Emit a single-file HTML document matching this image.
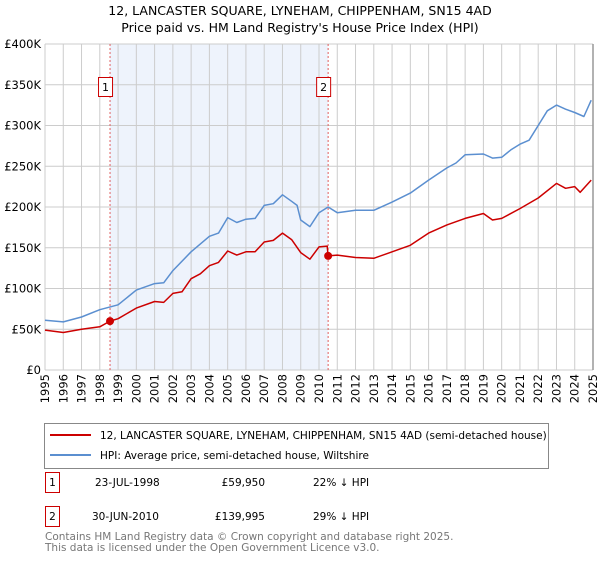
<!DOCTYPE html>
<html><head><meta charset="utf-8"><style>
body{margin:0;background:#fff;font-family:"DejaVu Sans","Liberation Sans",sans-serif;}
svg text{font-family:"DejaVu Sans","Liberation Sans",sans-serif;}
</style></head><body>
<svg width="600" height="560" xmlns="http://www.w3.org/2000/svg">
<text x="300" y="15" font-size="12.5" text-anchor="middle">12, LANCASTER SQUARE, LYNEHAM, CHIPPENHAM, SN15 4AD</text>
<text x="300" y="32" font-size="12.5" text-anchor="middle">Price paid vs. HM Land Registry's House Price Index (HPI)</text>
<g id="plot"></g>
<g>
<rect x="44.5" y="423.5" width="504" height="45" fill="#fff" stroke="#888"/>
<line x1="50" y1="435" x2="91" y2="435" stroke="#cc0000" stroke-width="2"/>
<text x="100" y="439" font-size="10.5">12, LANCASTER SQUARE, LYNEHAM, CHIPPENHAM, SN15 4AD (semi-detached house)</text>
<line x1="50" y1="455" x2="91" y2="455" stroke="#5b8fd0" stroke-width="2"/>
<text x="100" y="459" font-size="10.5">HPI: Average price, semi-detached house, Wiltshire</text>
</g>
<g font-size="10.5">
<rect x="45.5" y="472.5" width="14" height="20" fill="#fff" stroke="#cc0000"/>
<text x="52.5" y="486" text-anchor="middle">1</text>
<text x="95" y="486">23-JUL-1998</text>
<text x="265" y="486" text-anchor="end">£59,950</text>
<text x="313" y="486">22% ↓ HPI</text>
<rect x="45.5" y="506.5" width="14" height="20" fill="#fff" stroke="#cc0000"/>
<text x="52.5" y="520" text-anchor="middle">2</text>
<text x="92" y="520">30-JUN-2010</text>
<text x="265" y="520" text-anchor="end">£139,995</text>
<text x="313" y="520">29% ↓ HPI</text>
</g>
<text x="45" y="540" font-size="10.5" fill="#777">Contains HM Land Registry data © Crown copyright and database right 2025.</text>
<text x="45" y="551" font-size="10.5" fill="#777">This data is licensed under the Open Government Licence v3.0.</text>
</svg>
<script>
const hpiYears=[1995,1996,1997,1998,1999,2000,2001,2001.5,2002,2003,2004,2004.5,2005,2005.5,2006,2006.5,2007,2007.5,2008,2008.5,2008.8,2009,2009.5,2010,2010.5,2011,2012,2013,2014,2015,2016,2017,2017.5,2018,2019,2019.5,2020,2020.5,2021,2021.5,2022,2022.5,2023,2023.5,2024,2024.5,2024.9];
const hpiValues=[61,59,65,74,80,98,106,107,122,145,164,168,187,181,185,186,202,204,215,207,202,184,176,193,200,193,196,196,206,217,233,248,254,264,265,260,261,270,277,282,300,318,325,320,316,311,331];
const ppYears=[1995,1996,1997,1998,1998.56,1999,2000,2001,2001.5,2002,2002.5,2003,2003.5,2004,2004.5,2005,2005.5,2006,2006.5,2007,2007.5,2008,2008.5,2009,2009.5,2010,2010.45,2010.5,2011,2012,2013,2014,2015,2016,2017,2018,2019,2019.5,2020,2021,2022,2023,2023.5,2024,2024.3,2024.9];
const ppValues=[49,46,50,53,60,63,76,84,83,94,96,112,118,128,132,146,141,145,145,157,159,168,160,144,136,151,152,140,141,138,137,145,153,168,178,186,192,184,186,198,211,229,223,225,218,233];
const saleYears=[1998.56,2010.5];
const saleValues=[59.95,139.995];
const saleLabels=["1","2"];
const yTicks=[0,50,100,150,200,250,300,350,400];
const yTickLabels=["£0","£50K","£100K","£150K","£200K","£250K","£300K","£350K","£400K"];
const xStart=1995,xEnd=2025;
const L=45,R=593,T=44,B=370;
const X=y=>L+(y-xStart)/(xEnd-xStart)*(R-L);
const Y=v=>B-v/400*(B-T);
const NS="http://www.w3.org/2000/svg";
const g=document.getElementById('plot');
function mk(t,a,p){const e=document.createElementNS(NS,t);for(const k in a)e.setAttribute(k,a[k]);(p||g).appendChild(e);return e;}
const bg=mk('rect',{x:L,y:T,width:R-L,height:B-T,fill:'#fff'});


const sh=mk('rect',{x:X(saleYears[0]),y:T,width:X(saleYears[1])-X(saleYears[0]),height:B-T,fill:'#eef3fc'});


for(let yr=xStart;yr<=xEnd;yr++){
 const l=mk('line',{x1:X(yr),y1:T,x2:X(yr),y2:B,stroke:'#cccccc','stroke-width':1});
 
 
 const tx=X(yr)+4;
 const t=mk('text',{x:tx,y:374,'font-size':11.5,'text-anchor':'end',transform:`rotate(-90 ${tx} 374)`});
 t.textContent=yr;
 
 
}
yTicks.forEach((v,i)=>{
 const l=mk('line',{x1:L,y1:Y(v),x2:R,y2:Y(v),stroke:'#cccccc','stroke-width':1});
 
 
 const t=mk('text',{x:L-4,y:Y(v)+4,'font-size':11.5,'text-anchor':'end'});
 t.textContent=yTickLabels[i];
 
 
});
const edge=mk('line',{x1:R,y1:T,x2:R,y2:B,stroke:'#999','stroke-width':1.5});


saleYears.forEach((yr,i)=>{
 const l=mk('line',{x1:X(yr),y1:T,x2:X(yr),y2:B,stroke:'#e06060','stroke-width':1,'stroke-dasharray':'2,2'});
 
 
 const r=mk('rect',{x:X(yr)-11.5,y:77.5,width:14,height:19,fill:'#fff',stroke:'#cc0000'});
 
 
 const t=mk('text',{x:X(yr)-4.5,y:91,'font-size':11,'text-anchor':'middle'});
 t.textContent=saleLabels[i];
 
 
});
function line(xs,vs,c,name){
 const d=xs.map((x,i)=>(i?'L':'M')+X(x).toFixed(1)+','+Y(vs[i]).toFixed(1)).join('');
 const p=mk('path',{d:d,fill:'none',stroke:c,'stroke-width':1.5,'stroke-linejoin':'round'});
 
 
}
line(hpiYears,hpiValues,'#5b8fd0','hpi-line');
line(ppYears,ppValues,'#cc0000','price-paid-line');
saleYears.forEach((yr,i)=>{
 const c=mk('circle',{cx:X(yr),cy:Y(saleValues[i]),r:4,fill:'#cc0000'});
 
 
});
</script>
</body></html>
